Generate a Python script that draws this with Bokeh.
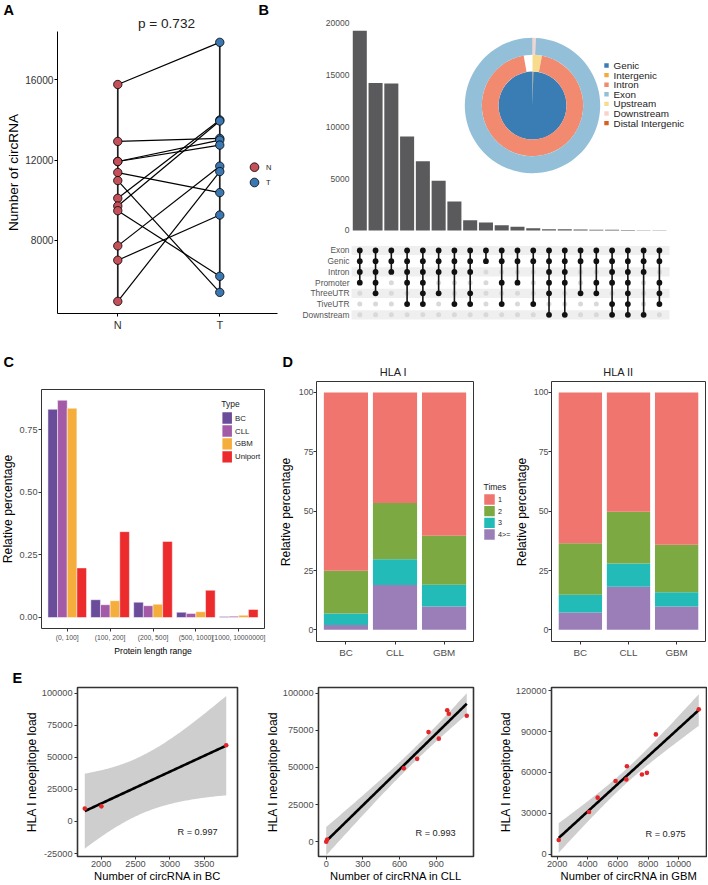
import numpy as np
from math import gamma, sqrt, pi
from bokeh.plotting import figure
from bokeh.models import Range1d, FixedTicker, NumeralTickFormatter
from bokeh.layouts import row, column
from bokeh.embed import file_html
from bokeh.resources import INLINE
from bokeh.core.properties import value

FONT = "Liberation Sans"

# ---------------- DATA ----------------
# Panel A: paired N / T circRNA counts
groups_A = ["N", "T"]
pair_N = [15767, 12933, 11933, 11933, 11383, 10983, 10100, 9717, 9483, 7733, 7017, 4970]
pair_T = [17867, 13083, 13000, 12750, 10383, 5417, 14000, 13950, 6217, 11700, 9267, 11433]
p_text = "p = 0.732"

# Panel B: upset bars + matrix
upset_counts = [19260, 14240, 14180, 9070, 6690, 4790, 2800, 1000, 770, 510,
                350, 225, 130, 113, 96, 80, 64, 48, 32, 20]
upset_sets = ["Exon", "Genic", "Intron", "Promoter", "ThreeUTR", "TiveUTR", "Downstream"]
upset_members = [
    ["Exon", "Genic", "Intron", "Promoter"],
    ["Exon", "Genic", "Intron", "Promoter", "ThreeUTR"],
    ["Exon", "Genic", "Intron"],
    ["Exon", "Genic", "Intron", "Promoter", "TiveUTR"],
    ["Exon", "Genic", "Intron", "Promoter", "ThreeUTR", "TiveUTR"],
    ["Exon", "Genic", "Intron", "ThreeUTR"],
    ["Exon", "Genic", "Intron", "TiveUTR"],
    ["Exon", "Genic", "Intron", "ThreeUTR", "TiveUTR"],
    ["Exon", "Genic"],
    ["Exon", "Genic", "Promoter", "TiveUTR"],
    ["Exon", "Genic", "Promoter"],
    ["Exon", "Genic", "TiveUTR"],
    ["Exon", "Genic", "Intron", "Promoter", "ThreeUTR", "Downstream"],
    ["Exon", "Genic", "Intron", "Promoter", "Downstream"],
    ["Exon", "Genic", "ThreeUTR"],
    ["Exon", "Genic", "Promoter", "ThreeUTR"],
    ["Exon", "Genic", "Intron", "Promoter", "TiveUTR", "Downstream"],
    ["Exon", "Genic", "Intron", "Promoter", "ThreeUTR", "TiveUTR", "Downstream"],
    ["Exon", "Genic", "Intron", "Downstream"],
    ["Exon", "Genic", "Promoter", "ThreeUTR", "TiveUTR"],
]
# donut rings (percent of full circle, clockwise from top)
ring_inner_labels = ["Intergenic", "Genic"]
ring_inner_values = [0.4, 99.6]
ring_mid_labels = ["Upstream", "Intron"]
ring_mid_values = [3.0, 94.2]
ring_outer_labels = ["Downstream", "Exon"]
ring_outer_values = [0.8, 99.2]
anno_legend = ["Genic", "Intergenic", "Intron", "Exon", "Upstream", "Downstream", "Distal Intergenic"]
anno_colors = {"Genic": "#3A7DB4", "Intergenic": "#F5A940", "Intron": "#F28A70",
               "Exon": "#93C0D8", "Upstream": "#F8DC8E", "Downstream": "#F9D3CB",
               "Distal Intergenic": "#D8601F"}

# Panel C
length_ranges = ["(0, 100]", "(100, 200]", "(200, 500]", "(500, 1000]", "(1000, 10000000]"]
C_types = ["BC", "CLL", "GBM", "Uniport"]
C_BC = [0.832, 0.071, 0.061, 0.021, 0.004]
C_CLL = [0.868, 0.051, 0.047, 0.016, 0.005]
C_GBM = [0.836, 0.067, 0.053, 0.023, 0.009]
C_Uniport = [0.198, 0.343, 0.304, 0.109, 0.032]
C_colors = ["#6B4C9A", "#A35BA8", "#F5AD3C", "#EC2B2D"]
rel_label = "Relative percentage"

# Panel D
cancers = ["BC", "CLL", "GBM"]
times = ["1", "2", "3", "4>="]
times_colors = ["#F1756F", "#7DA942", "#22BBB8", "#9B7EB8"]
HLAI_1 = [75.1, 46.6, 60.4]
HLAI_2 = [18.0, 23.7, 20.6]
HLAI_3 = [4.9, 10.8, 9.2]
HLAI_4 = [2.0, 18.9, 9.8]
HLAII_1 = [63.5, 50.3, 64.2]
HLAII_2 = [21.7, 21.7, 20.0]
HLAII_3 = [7.5, 9.8, 6.0]
HLAII_4 = [7.3, 18.2, 9.8]
D_titles = ["HLA I", "HLA II"]

# Panel E
BC_circ = [1762, 2004, 3820]
BC_load = [10100, 11800, 59400]
CLL_circ = [0, 8, 635, 744, 837, 921, 990, 1003, 1150]
CLL_load = [0, 1500, 49400, 55800, 73800, 69400, 88500, 86100, 84800]
GBM_circ = [2100, 4100, 4670, 5850, 6560, 6600, 7590, 7920, 8510, 11340]
GBM_load = [10500, 31000, 41500, 53700, 54900, 64500, 58500, 59700, 87900, 106400]
E_R = ["R = 0.997", "R = 0.993", "R = 0.975"]
panel_letters = ["A", "B", "C", "D", "E"]


# ---------------- HELPERS ----------------
def px(v):
    return f"{v:.1f}px"


def make_fig(fig_box, frame_box, xr, yr, **kw):
    fx0, fy0, fx1, fy1 = fig_box
    l, t, r, b = frame_box
    W = fx1 - fx0
    H = fy1 - fy0
    p = figure(width=W, height=H, x_range=Range1d(*xr), y_range=Range1d(*yr),
               output_backend="svg", toolbar_location=None,
               min_border_left=round(l - fx0), min_border_right=round(fx1 - r),
               min_border_top=round(t - fy0), min_border_bottom=round(fy1 - b), **kw)
    p.extra_x_ranges = {"ref": Range1d(l, r)}
    p.extra_y_ranges = {"ref": Range1d(b, t)}
    for g in p.grid:
        g.visible = False
    p.outline_line_color = None
    p.border_fill_color = "white"
    p.background_fill_color = "white"
    return p


def make_header(box):
    x0, y0, x1, y1 = box
    return make_fig(box, box, (x0, x1), (y1, y0), x_axis_location=None, y_axis_location=None)


def solo(f):
    # wrap a figure so sibling figures do not align their frames
    return column(f)


def style_axis(ax, tick_size, label="", label_size=12, ticks=True, line_color=None,
               tick_color="#4D4D4D", label_standoff=3, tick_standoff=2):
    ax.axis_label = label
    ax.axis_label_text_font = FONT
    ax.axis_label_text_font_size = px(label_size)
    ax.axis_label_text_font_style = "normal"
    ax.axis_label_text_color = "black"
    ax.axis_label_standoff = label_standoff
    ax.major_label_text_font = FONT
    ax.major_label_text_font_size = px(tick_size)
    ax.major_label_text_color = tick_color
    ax.major_label_standoff = tick_standoff
    ax.minor_tick_line_color = None
    ax.major_tick_in = 0
    ax.major_tick_out = 3 if ticks else 0
    ax.major_tick_line_color = "#333333" if ticks else None
    ax.axis_line_color = line_color


def ref_text(p, xs, ys, texts, size, color="black", align="left", bold=False, angle=0.0):
    p.text(x=xs, y=ys, text=texts, x_range_name="ref", y_range_name="ref",
           text_font=value(FONT), text_font_size=px(size), text_baseline="middle",
           text_align=align, text_color=color, angle=angle,
           text_font_style="bold" if bold else "normal")


def t975(df):
    c = gamma((df + 1) / 2) / (sqrt(df * pi) * gamma(df / 2))
    xs = np.linspace(0, 80, 400001)
    pdf = c * (1 + xs ** 2 / df) ** (-(df + 1) / 2)
    cdf = 0.5 + np.concatenate([[0.0], np.cumsum(0.5 * (pdf[1:] + pdf[:-1]) * np.diff(xs))])
    return float(np.interp(0.975, cdf, xs))


def lm_band(x, y, n=120):
    x = np.asarray(x, float)
    y = np.asarray(y, float)
    b1, b0 = np.polyfit(x, y, 1)
    xs = np.linspace(x.min(), x.max(), n)
    yh = b0 + b1 * xs
    res = y - (b0 + b1 * x)
    s = sqrt(np.sum(res ** 2) / (len(x) - 2))
    sxx = np.sum((x - x.mean()) ** 2)
    se = s * np.sqrt(1 / len(x) + (xs - x.mean()) ** 2 / sxx)
    t = t975(len(x) - 2)
    return xs, yh, yh - t * se, yh + t * se


# ---------------- PANEL A ----------------
hA = make_header((0, 0, 296, 31))
ref_text(hA, [3, 258], [9, 9], [panel_letters[0], panel_letters[1]], 14.5, bold=True)
ref_text(hA, [166], [23], [p_text], 13.6, align="center", color="#222222")

pA = make_fig((0, 31, 296, 335), (57, 31, 277, 313), (0.409, 2.566), (4365, 18406))
xN, xT = 1, 2
n = len(pair_N)
pA.segment(x0=[xN] * n, y0=pair_N, x1=[xT] * n, y1=pair_T, line_color="black", line_width=1.2)
pA.segment(x0=[xN, xT], y0=[min(pair_N), min(pair_T)], x1=[xN, xT], y1=[max(pair_N), max(pair_T)],
           line_color="#1E1E1E", line_width=1.7)
colN, colT = "#C4505A", "#3B77B0"
pA.scatter([xN] * n, pair_N, size=8.4, fill_color=colN, line_color="black", line_width=0.8)
pA.scatter([xT] * n, pair_T, size=8.4, fill_color=colT, line_color="black", line_width=0.8)
pA.scatter(x=[254, 254], y=[166.7, 182], x_range_name="ref", y_range_name="ref",
           size=8.7, fill_color=[colN, colT], line_color="black", line_width=0.8)
ref_text(pA, [265.5, 265.5], [166.7, 182], groups_A, 7.5, color="#222222")
style_axis(pA.yaxis[0], 10.2, "Number of circRNA", 13.6, line_color="black", tick_color="#333333",
           label_standoff=1, tick_standoff=1)
pA.yaxis[0].ticker = FixedTicker(ticks=[8000, 12000, 16000])
pA.yaxis[0].formatter = NumeralTickFormatter(format="0")
pA.yaxis[0].major_tick_line_color = "black"
style_axis(pA.xaxis[0], 11, "", line_color="black", tick_color="#333333")
pA.xaxis[0].ticker = FixedTicker(ticks=[xN, xT])
pA.xaxis[0].major_label_overrides = {xN: groups_A[0], xT: groups_A[1]}
pA.xaxis[0].major_tick_line_color = "black"

# ---------------- PANEL B (bars + donut) ----------------
cols = np.arange(1, len(upset_counts) + 1)
pB = make_fig((296, 0, 707, 240), (351, 5, 704, 238), (0.474, 22.86), (-772, 21706),
              x_axis_location=None)
pB.vbar(x=cols, top=upset_counts, width=0.89, fill_color="#5A5A5C", line_color=None)
style_axis(pB.yaxis[0], 8.5, "", ticks=False, line_color=None, tick_color="#4D4D4D")
pB.yaxis[0].ticker = FixedTicker(ticks=[0, 5000, 10000, 15000, 20000])
pB.yaxis[0].formatter = NumeralTickFormatter(format="0")

cx, cy = 532, 105
for (ri, ro, labs, vals) in [(0, 34, ring_inner_labels, ring_inner_values),
                             (34, 50.7, ring_mid_labels, ring_mid_values),
                             (50.7, 67.7, ring_outer_labels, ring_outer_values)]:
    c = np.cumsum([0] + vals) / 100.0
    starts = pi / 2 - 2 * pi * c[:-1]
    ends = pi / 2 - 2 * pi * c[1:]
    pB.annular_wedge(x=[cx] * len(vals), y=[cy] * len(vals), inner_radius=ri, outer_radius=ro,
                     start_angle=starts, end_angle=ends, direction="clock",
                     fill_color=[anno_colors[l] for l in labs], line_color=None,
                     x_range_name="ref", y_range_name="ref")
leg_y = [65 + 9.6 * i for i in range(len(anno_legend))]
pB.rect(x=[606] * len(anno_legend), y=leg_y, width=4.4, height=4.4,
        fill_color=[anno_colors[l] for l in anno_legend], line_color=None,
        x_range_name="ref", y_range_name="ref")
ref_text(pB, [613] * len(anno_legend), leg_y, anno_legend, 9.9, color="#222222")

# ---------------- PANEL B (matrix) ----------------
pM = make_fig((296, 240, 707, 335), (351, 242, 704, 325), (0.474, 22.86), (8.0, 0.254),
              x_axis_location=None)
band_rows = [j + 1 for j in range(len(upset_sets)) if j % 2 == 0]
pM.rect(x=[10.53] * len(band_rows), y=band_rows, width=20.23, height=0.86,
        fill_color="#EFEFEF", line_color=None)
gx, gy, bx, by, lx, ly0, ly1 = [], [], [], [], [], [], []
for i, mem in enumerate(upset_members):
    act = [j + 1 for j, s in enumerate(upset_sets) if s in mem]
    for j, s in enumerate(upset_sets):
        if s in mem:
            bx.append(i + 1); by.append(j + 1)
        else:
            gx.append(i + 1); gy.append(j + 1)
    lx.append(i + 1); ly0.append(min(act)); ly1.append(max(act))
pM.scatter(gx, gy, size=5.0, fill_color="#D9D9D9", line_color=None)
pM.segment(x0=lx, y0=ly0, x1=lx, y1=ly1, line_color="#111111", line_width=1.6)
pM.scatter(bx, by, size=5.8, fill_color="#111111", line_color=None)
style_axis(pM.yaxis[0], 8.4, "", ticks=False, line_color=None, tick_color="#555555")
pM.yaxis[0].ticker = FixedTicker(ticks=list(range(1, len(upset_sets) + 1)))
pM.yaxis[0].major_label_overrides = {j + 1: s for j, s in enumerate(upset_sets)}

# ---------------- ROW 2 HEADER ----------------
h2 = make_header((0, 335, 707, 379))
ref_text(h2, [3, 282], [361, 361], [panel_letters[2], panel_letters[3]], 14.5, bold=True)
ref_text(h2, [393, 618], [371, 371], D_titles, 11, align="center", color="#222222")

# ---------------- PANEL C ----------------
stripC = make_header((0, 379, 16, 660))
ref_text(stripC, [7.8], [508.5], [rel_label], 12.2, align="center", angle=pi / 2)

pC = make_fig((16, 379, 271, 660), (37, 389, 264, 628), (0.4, 5.6), (-0.044, 0.911))
pC.outline_line_color = "#333333"
pC.outline_line_width = 1
cat_x = np.arange(1, len(length_ranges) + 1)
bw = 0.225
for k, (vals, col) in enumerate(zip([C_BC, C_CLL, C_GBM, C_Uniport], C_colors)):
    off = (k - 1.5) * bw
    pC.vbar(x=cat_x + off, top=vals, width=bw, fill_color=col, line_color="white",
            line_width=0.6, line_alpha=0.8)
style_axis(pC.yaxis[0], 9.2, "", tick_standoff=1)
pC.yaxis[0].ticker = FixedTicker(ticks=[0, 0.25, 0.5, 0.75])
pC.yaxis[0].formatter = NumeralTickFormatter(format="0.00")
style_axis(pC.xaxis[0], 6.8, "Protein length range", 8.6, label_standoff=2)
pC.xaxis[0].ticker = FixedTicker(ticks=list(cat_x))
pC.xaxis[0].major_label_overrides = {int(i): s for i, s in zip(cat_x, length_ranges)}
ref_text(pC, [220], [403], ["Type"], 8.5, color="#222222")
ky = [417.5, 430.5, 443.3, 456.3]
pC.rect(x=[226] * 4, y=ky, width=9.7, height=11.3, fill_color=C_colors, line_color=None,
        x_range_name="ref", y_range_name="ref")
ref_text(pC, [234] * 4, ky, C_types, 7.8, color="#222222")


# ---------------- PANEL D ----------------
def d_panel(fig_box, frame_box, levels):
    p = make_fig(fig_box, frame_box, (0.4, 3.6), (-4.9, 104.6))
    p.outline_line_color = "#333333"
    p.outline_line_width = 1
    x = np.arange(1, len(cancers) + 1)
    bottom = np.zeros(len(cancers))
    # stack from "4>=" (bottom) up to "1" (top)
    for vals, col in reversed(list(zip(levels, times_colors))):
        v = np.asarray(vals, float)
        p.vbar(x=x, bottom=bottom, top=bottom + v, width=0.9, fill_color=col, line_color=None)
        bottom = bottom + v
    style_axis(p.yaxis[0], 8.8, "", tick_standoff=0)
    p.yaxis[0].ticker = FixedTicker(ticks=[0, 25, 50, 75, 100])
    p.yaxis[0].formatter = NumeralTickFormatter(format="0")
    style_axis(p.xaxis[0], 9.8, "")
    p.xaxis[0].ticker = FixedTicker(ticks=list(x))
    p.xaxis[0].major_label_overrides = {int(i): s for i, s in zip(x, cancers)}
    return p


stripD1 = make_header((271, 379, 295, 660))
ref_text(stripD1, [285.5], [511.5], [rel_label], 12.2, align="center", angle=pi / 2)
pD1 = d_panel((295, 379, 474, 660), (313, 381, 473, 642), [HLAI_1, HLAI_2, HLAI_3, HLAI_4])

pDleg = make_header((474, 379, 530, 660))
tky = [499, 510.7, 522.3, 534]
pDleg.rect(x=[489] * 4, y=tky, width=10.5, height=10.3, fill_color=times_colors, line_color=None,
           x_range_name="ref", y_range_name="ref")
ref_text(pDleg, [483], [486], ["Times"], 8.5, color="#222222")
ref_text(pDleg, [497.5] * 4, tky, times, 7.2, color="#222222")
ref_text(pDleg, [521.5], [511.5], [rel_label], 12.2, align="center", angle=pi / 2)

pD2 = d_panel((530, 379, 707, 660), (548, 381, 705, 642), [HLAII_1, HLAII_2, HLAII_3, HLAII_4])

# ---------------- ROW 3 HEADER ----------------
h3 = make_header((0, 660, 707, 685))
ref_text(h3, [12], [677], [panel_letters[4]], 14.5, bold=True)


# ---------------- PANEL E ----------------
def e_panel(fig_box, frame_box, xr, yr, xv, yv, xticks, yticks, xlabel, rtext, rx, ry):
    p = make_fig(fig_box, frame_box, xr, yr)
    p.outline_line_color = "#333333"
    p.outline_line_width = 1.6
    xs, yh, lo, hi = lm_band(xv, yv)
    p.varea(x=xs, y1=lo, y2=hi, fill_color="#BEBEBE", fill_alpha=0.75)
    p.line(xs, yh, line_color="black", line_width=2.6)
    p.scatter(xv, yv, size=4.6, fill_color="#E2262A", line_color=None)
    style_axis(p.yaxis[0], 9.2, "HLA I neoepitope load", 12.2, label_standoff=0)
    p.yaxis[0].ticker = FixedTicker(ticks=yticks)
    p.yaxis[0].formatter = NumeralTickFormatter(format="0")
    style_axis(p.xaxis[0], 9.2, xlabel, 11.2, label_standoff=0, tick_standoff=1)
    p.xaxis[0].ticker = FixedTicker(ticks=xticks)
    p.xaxis[0].formatter = NumeralTickFormatter(format="0")
    ref_text(p, [rx], [ry], [rtext], 9.2, color="#222222")
    return p


pE1 = e_panel((0, 685, 257, 884), (77, 687.5, 237, 860), (1656, 3984), (-27290, 104420),
              BC_circ, BC_load, [2000, 2500, 3000, 3500], [-25000, 0, 25000, 50000, 75000, 100000],
              "Number of circRNA in BC", E_R[0], 177, 835)
pE2 = e_panel((257, 685, 492, 884), (318, 687.5, 473, 860), (-63, 1205), (-9900, 103800),
              CLL_circ, CLL_load, [0, 300, 600, 900], [0, 25000, 50000, 75000, 100000],
              "Number of circRNA in CLL", E_R[1], 415, 836)
pE3 = e_panel((492, 685, 707, 884), (551, 687.5, 706, 860), (1625, 11850), (-1650, 122300),
              GBM_circ, GBM_load, [2000, 4000, 6000, 8000, 10000], [0, 30000, 60000, 90000, 120000],
              "Number of circRNA in GBM", E_R[2], 645, 837)

layout = column(
    row(column(solo(hA), solo(pA)), column(pB, pM)),
    column(h2, row(solo(stripC), solo(pC), solo(stripD1), solo(pD1), solo(pDleg), solo(pD2))),
    column(h3, row(solo(pE1), solo(pE2), solo(pE3))),
)

open("out.html", "w").write(file_html(layout, INLINE))
